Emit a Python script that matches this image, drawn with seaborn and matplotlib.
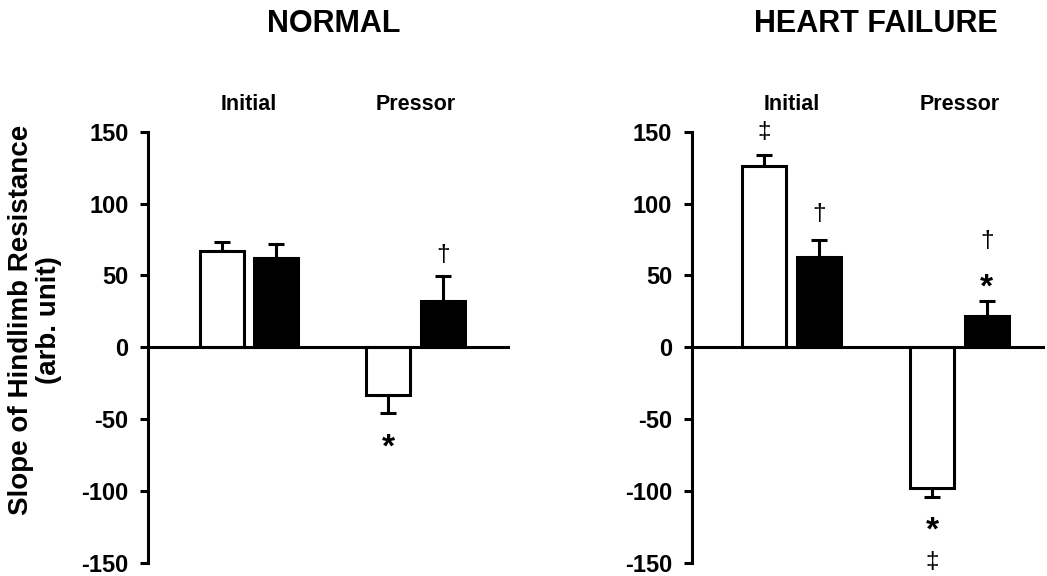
import numpy as np
import pandas as pd
import matplotlib.pyplot as plt
import seaborn as sns

# values
conditions = ['NORMAL', 'HEART FAILURE']
phases = ['Initial', 'Pressor']
groups = ['open', 'filled']

normal_open = [67, -33]
normal_open_err = [6, 12.5]
normal_filled = [62, 32]
normal_filled_err = [10, 17.5]

hf_open = [126, -98]
hf_open_err = [7.5, 6]
hf_filled = [63, 21.5]
hf_filled_err = [12, 11]

# significance marks: (phase index, group, y value, symbol)
normal_marks = [(1, 'open', -63, '*'), (1, 'filled', 64, '\u2020')]
hf_marks = [(0, 'open', 150, '\u2021'), (0, 'filled', 93, '\u2020'),
            (1, 'filled', 74, '\u2020'), (1, 'filled', 48, '*'),
            (1, 'open', -121, '*'), (1, 'open', -149, '\u2021')]

rows = []
for cond, op, ope, fi, fie in [('NORMAL', normal_open, normal_open_err, normal_filled, normal_filled_err),
                               ('HEART FAILURE', hf_open, hf_open_err, hf_filled, hf_filled_err)]:
    for i, ph in enumerate(phases):
        rows.append(dict(condition=cond, phase=ph, group='open', value=op[i], err=ope[i]))
        rows.append(dict(condition=cond, phase=ph, group='filled', value=fi[i], err=fie[i]))
df = pd.DataFrame(rows)

sns.set_theme(style='ticks')
plt.rcParams['font.family'] = ['Liberation Sans', 'DejaVu Sans']
plt.rcParams['font.weight'] = 'bold'
plt.rcParams['text.color'] = 'black'
plt.rcParams['axes.labelcolor'] = 'black'
plt.rcParams['ytick.color'] = 'black'
plt.rcParams['axes.unicode_minus'] = False

LW = 2.2
fig = plt.figure(figsize=(10.47, 5.76), dpi=100)
W, H = 1047, 576
axes = [fig.add_axes([148 / W, 13 / H, 362 / W, 431.3 / H]),
        fig.add_axes([691.7 / W, 13 / H, 353.3 / W, 431.3 / H])]
xlims = [(-0.607, 1.568), (-0.596, 1.51)]
title_x = [334, 876]
all_marks = [normal_marks, hf_marks]

for ax, cond, xl, tx, marks in zip(axes, conditions, xlims, title_x, all_marks):
    sub = df[df.condition == cond]
    sns.barplot(data=sub, x='phase', y='value', hue='group', order=phases,
                hue_order=groups, palette={'open': 'white', 'filled': 'black'},
                edgecolor='black', linewidth=LW, width=0.653, gap=0.19,
                errorbar=None, legend=False, ax=ax, zorder=3)

    centers = {}
    for g, cont in zip(groups, ax.containers):
        gsub = sub[sub.group == g].set_index('phase').loc[phases]
        for k, (bar, (ph, r)) in enumerate(zip(cont.patches, gsub.iterrows())):
            xc = bar.get_x() + bar.get_width() / 2
            centers[(k, g)] = xc
            v, e = r['value'], r['err']
            yerr = [[0], [e]] if v > 0 else [[e], [0]]
            ax.errorbar([xc], [v], yerr=yerr, fmt='none', ecolor='black',
                        elinewidth=LW, capsize=5.5, capthick=LW, zorder=2)

    for k, g, y, s in marks:
        if s == '*':
            # asterisk sits high in its line box, so anchor on the baseline
            ax.annotate(s, (centers[(k, g)], y), xytext=(0, -0.56 * 24),
                        textcoords='offset points', ha='center', va='baseline',
                        fontsize=24, fontweight='bold')
        else:
            ax.text(centers[(k, g)], y, s, ha='center', va='center',
                    fontsize=17.5, fontweight='normal')

    ax.axhline(0, color='black', lw=LW, zorder=4)
    ax.set_xlim(*xl)
    ax.set_ylim(-150, 150)
    ax.set_yticks(np.arange(-150, 151, 50))
    ax.tick_params(axis='y', length=6, width=LW, pad=8, labelsize=17)
    ax.tick_params(axis='x', length=0, labelbottom=False)
    for lab in ax.get_yticklabels():
        lab.set_fontweight('bold')
    sns.despine(ax=ax, bottom=True)
    ax.spines['left'].set_linewidth(LW)
    ax.spines['left'].set_color('black')
    ax.set_xlabel('')
    ax.set_ylabel('')

    for i, ph in enumerate(phases):
        ax.text(i, 169, ph, ha='center', va='center', fontsize=15.5,
                fontweight='bold', clip_on=False)

    fig.text(tx / W, 1 - 23.5 / H, cond, ha='center', va='center',
             fontsize=22, fontweight='bold')

fig.text(35 / W, 1 - 320 / H, 'Slope of Hindlimb Resistance\n(arb. unit)',
         rotation=90, ha='center', va='center', fontsize=20,
         fontweight='bold', linespacing=1.05)

fig.savefig('out.png', dpi=100)
